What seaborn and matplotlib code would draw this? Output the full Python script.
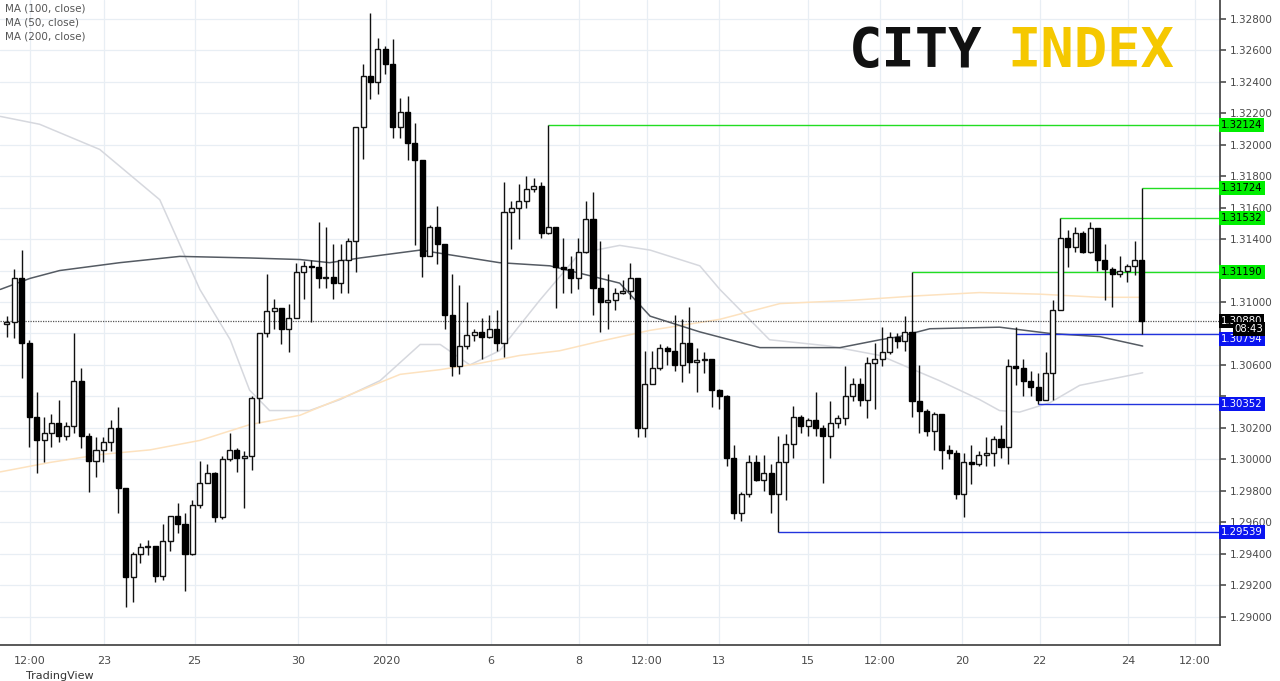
import numpy as np
import pandas as pd
import matplotlib
matplotlib.use("Agg")
import matplotlib.pyplot as plt
import matplotlib.transforms as mtransforms
import seaborn as sns

# ---- data (prices, 4H candles) ----
first_open = 1.3086
closes = [13087,13115,13074,13027,13012,13017,13023,13015,13021,13050,13015,12999,13006,13011,13020,12982,12925,12940,12944,12945,
          12926,12948,12964,12959,12940,12971,12985,12991,12963,13000,13006,13001,13002,13039,13080,13094,13096,13083,13090,13119,
          13123,13122,13115,13116,13112,13127,13139,13211,13244,13240,13261,13251,13211,13221,13201,13190,13129,13148,13137,13092,
          13059,13072,13079,13081,13078,13083,13074,13157,13160,13164,13172,13174,13144,13148,13122,13121,13115,13132,13153,13109,
          13100,13101,13106,13107,13115,13020,13048,13058,13071,13069,13060,13074,13062,13063,13064,13044,13040,13001,12966,12978,
          12998,12987,12991,12978,12998,13010,13027,13021,13025,13020,13015,13023,13026,13040,13048,13038,13061,13064,13068,13078,
          13075,13081,13037,13031,13018,13029,13006,13004,12978,12998,12997,13003,13004,13013,13008,13059,13058,13050,13046,13038,
          13055,13095,13141,13135,13144,13132,13147,13127,13121,13118,13120,13123,13127,13088]
highs = [13091,13121,13133,13076,13043,13027,13029,13038,13024,13080,13058,13017,13014,13014,13025,13033,12982,12941,12947,12949,
         12945,12959,12964,12972,12966,12974,12999,12997,12992,13002,13017,13007,13005,13040,13080,13118,13102,13096,13099,13125,
         13126,13127,13151,13148,13137,13137,13141,13211,13251,13284,13268,13263,13267,13230,13231,13214,13190,13149,13161,13137,
         13118,13111,13100,13083,13090,13092,13095,13176,13164,13175,13180,13179,13176,13212.4,13148,13141,13129,13141,13164,13170,
         13139,13118,13109,13114,13125,13115,13069,13069,13073,13072,13092,13089,13097,13071,13068,13064,13045,13041,13009,12979,
         13003,13003,13003,12997,13015,13016,13034,13028,13026,13043,13022,13037,13028,13059,13052,13052,13065,13074,13084,13081,
         13080,13091,13119.0,13060,13032,13030,13029,13009,13006,13004,13009,13005,13014,13015,13022,13064,13084,13064,13056,13055,
         13068,13101,13153.2,13146,13148,13145,13151,13147,13137,13122,13129,13124,13139,13172.4]
lows = [13078,13077,13052,13008,12991,12998,13008,13011,13012,13017,13007,12979,12989,12998,13005,12966,12906,12909,12934,12939,
        12922,12923,12942,12953,12916,12939,12969,12985,12960,12962,12999,12992,12969,12993,13023,13078,13083,13073,13068,13090,
        13102,13087,13109,13109,13102,13106,13106,13119,13191,13229,13232,13245,13204,13204,13190,13136,13116,13129,13124,13083,
        13053,13054,13070,13075,13064,13077,13069,13065,13134,13140,13160,13170,13141,13143,13096,13106,13106,13108,13131,13092,
        13081,13083,13095,13105,13102,13014,13014,13048,13057,13060,13056,13049,13055,13043,13055,13033,13032,12996,12962,12961,
        12976,12986,12980,12966,12953.9,12974,13001,13017,13015,13015,12985,13001,13020,13022,13037,13034,13026,13032,13059,13067,
        13071,13069,13027,13017,13015,13006,12994,13000,12975,12963,12984,12996,12996,12996,13001,12997,13047,13040,13040,13035.2,
        13038,13038,13095,13122,13132,13131,13131,13120,13101,13097,13116,13113,13117,13079.4]

ma100_idx = [-0.9,3.1,7.1,15.2,23.3,32.7,39.5,43.5,47.6,55.7,59.7,66.4,73.2,82.6,86.7,93.4,101.5,112.3,117.7,120.3,124.4,133.8,140.6,147.3,153.1]
ma100_val = [13108,13115,13120,13125,13129,13128,13127,13125,13128,13133,13130,13125,13123,13112,13091,13081,13071,13071,13076,13078,13083,13084,13080,13078,13072]
ma50_idx = [-0.9,4.4,12.5,20.6,26,30.1,32.7,35.4,40.8,44.9,50.3,55.7,58.4,62.4,66.4,71.8,77.2,82.6,86.7,93.4,96.1,102.8,110.9,117.7,125.7,131.1,133.8,136.5,140.6,144.6,153.1]
ma50_val = [13218,13213,13197,13165,13108,13076,13044,13031,13031,13038,13050,13073,13073,13060,13069,13101,13131,13136,13133,13123,13108,13076,13072,13066,13050,13038,13031,13030,13036,13047,13055]
ma200_idx = [-0.9,5.8,12.5,19.3,26,32.7,39.5,46.2,53,58.4,63.7,69.1,74.5,79.9,86.7,96.1,104.2,113.6,123,131.1,139.2,147.3,153.1]
ma200_val = [12992,12998,13003,13006,13012,13022,13028,13041,13054,13057,13061,13066,13069,13075,13082,13089,13099,13101,13104,13106,13105,13103,13103]

tick_pos = [3.1,13.1,25.3,39.2,51.1,65.2,77.1,86.3,96,108,117.7,128.7,139.2,151.1,160.1]
tick_lab = ["12:00","23","25","30","2020","6","8","12:00","13","15","12:00","20","22","24","12:00"]

green_levels = [(1.32124,73),(1.31724,153),(1.31532,142),(1.31190,122)]
blue_levels = [(1.30794,136,1.30766),(1.30352,139,1.30352),(1.29539,104,1.29539)]
last_price = 1.30880
covered_ticks = [1.312, 1.308, 1.304]   # hidden behind price boxes in the original

# ---- build ----
sc = np.array(closes, float) / 1e4
hi = np.array(highs, float) / 1e4
lo = np.array(lows, float) / 1e4
op = np.concatenate([[first_open], sc[:-1]])
idx = np.arange(len(sc))
df = pd.DataFrame({"i": idx, "o": op, "c": sc, "h": hi, "l": lo})

sns.set_theme(style="white")
plt.rcParams['font.family'] = ['DejaVu Sans']
fig = plt.figure(figsize=(12.8, 6.81), dpi=100)
ax = fig.add_axes([0.0, 0.053, 0.953, 0.947])

xmax = 163.5
ax.set_xlim(-0.94, xmax)
ax.set_ylim(1.2882, 1.3292)
ax.set_xticks(tick_pos)
ax.set_xticklabels(tick_lab, fontsize=8, color="#4a4a4a")
yt = np.round(np.arange(1.290, 1.3281, 0.002), 3)
ax.set_yticks(yt)
ax.set_yticklabels(["" if any(abs(v - c) < 1e-6 for c in covered_ticks) else f"{v:.5f}" for v in yt],
                   fontsize=7.5, color="#4a4a4a")
ax.yaxis.tick_right()
ax.grid(True, color="#e8eef4", lw=0.9)
ax.tick_params(axis="y", length=4, color="#555", pad=3)
ax.tick_params(axis="x", length=4, color="#555", pad=4)
for s in ["top", "left"]:
    ax.spines[s].set_visible(False)
ax.spines["right"].set_color("#444")
ax.spines["bottom"].set_color("#444")

# moving averages
sns.lineplot(x=ma50_idx, y=np.array(ma50_val)/1e4, ax=ax, color="#d6d8de", lw=1.1)
sns.lineplot(x=ma200_idx, y=np.array(ma200_val)/1e4, ax=ax, color="#fde2bf", lw=1.1)
sns.lineplot(x=ma100_idx, y=np.array(ma100_val)/1e4, ax=ax, color="#555b63", lw=1.1)

# candles
ax.vlines(df.i, df.l, df.h, color="#111", lw=1.0, zorder=3)
up = df.c >= df.o
bot = np.minimum(df.o, df.c)
hgt = np.maximum(np.abs(df.c - df.o), 0.00004)
ax.bar(df.i[up], hgt[up], bottom=bot[up], width=0.68, color="white", edgecolor="#111", lw=1.0, zorder=4)
ax.bar(df.i[~up], hgt[~up], bottom=bot[~up], width=0.68, color="#000", edgecolor="#000", lw=1.0, zorder=4)

# levels
trans = mtransforms.blended_transform_factory(ax.transAxes, ax.transData)
box = dict(boxstyle="square,pad=0.18", ec="none")
fs = 7.3
for v, start in green_levels:
    ax.hlines(v, start, xmax, color="#22dd22", lw=1.0, zorder=2)
    ax.text(1.001, v, f"{v:.5f}", transform=trans, fontsize=fs, va="center", ha="left", color="#000",
            bbox=dict(box, fc="#00ee00"), clip_on=False, zorder=6)
for v, start, lab_y in blue_levels:
    ax.hlines(v, start, xmax, color="#2233dd", lw=1.0, zorder=2)
    ax.text(1.001, lab_y, f"{v:.5f}", transform=trans, fontsize=fs, va="center", ha="left", color="white",
            bbox=dict(box, fc="#0a14f0"), clip_on=False, zorder=6)
ax.axhline(last_price, color="#555", lw=0.9, ls=(0, (1, 1)), zorder=2)
ax.text(1.001, last_price, f"{last_price:.5f}", transform=trans, fontsize=fs, va="center", ha="left", color="white",
        bbox=dict(box, fc="#000"), clip_on=False, zorder=6)
ax.text(1.012, 1.30828, "08:43", transform=trans, fontsize=fs, va="center", ha="left", color="white",
        bbox=dict(box, fc="#000"), clip_on=False, zorder=6)

# legend text
for k, t in enumerate(["MA (100, close)", "MA (50, close)", "MA (200, close)"]):
    fig.text(0.004, 0.995 - k * 0.0205, t, fontsize=7.5, color="#555", va="top")

# logo
fig.text(0.663, 0.925, "CITY", fontsize=40, fontweight="bold", family="DejaVu Sans Mono", color="#111", va="center")
fig.text(0.787, 0.925, "INDEX", fontsize=40, fontweight="bold", family="DejaVu Sans Mono", color="#f5c800", va="center")
fig.text(0.02, 0.0, "TradingView", fontsize=8, color="#333", va="bottom")

fig.savefig("out.png", dpi=100, facecolor="white")
